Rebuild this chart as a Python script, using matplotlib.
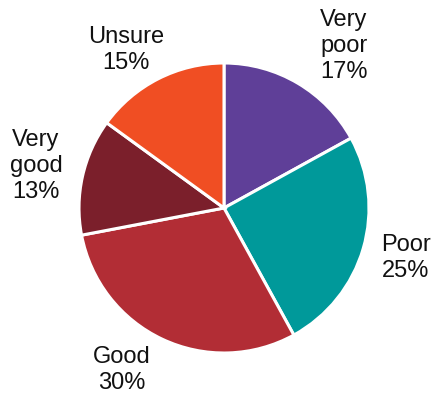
import matplotlib
matplotlib.use("Agg")
import matplotlib.pyplot as plt

categories = ["Very\npoor", "Poor", "Good", "Very\ngood", "Unsure"]
shares = [17, 25, 30, 13, 15]
colors = ["#5f3f98", "#00999a", "#b22d35", "#7b1f2b", "#f04e23"]

# label anchor points in figure pixel space (x from left, y from top)
label_xy = [(344, 46), (406, 258), (122, 370), (36, 166), (126, 50)]

W, H = 434, 400
fig = plt.figure(figsize=(W / 100, H / 100), dpi=100)
ax = fig.add_axes([0, 0, 1, 1])

ax.pie(shares, colors=colors, startangle=90, counterclock=False,
       center=(224, H - 208), radius=145,
       wedgeprops=dict(edgecolor="white", linewidth=2.2))

ax.set_xlim(0, W)
ax.set_ylim(0, H)
ax.set_aspect("equal")
ax.axis("off")

for cat, val, (x, y) in zip(categories, shares, label_xy):
    ax.text(x, H - y, f"{cat}\n{val}%", ha="center", va="center",
            fontsize=17, family="Liberation Sans", linespacing=1.25,
            color="#111111")

fig.savefig("out.png", dpi=100)
